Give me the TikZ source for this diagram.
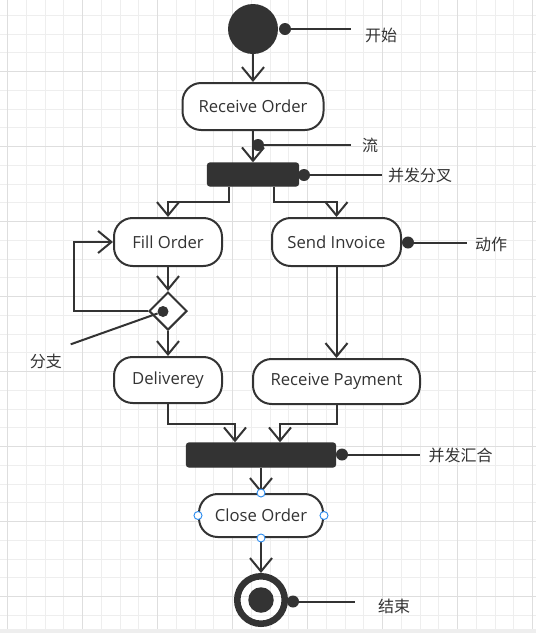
\documentclass[tikz,border=0pt]{standalone}
\usepackage{fontspec}
\setmainfont{Open Sans}
\newfontfamily\cjk{Noto Sans CJK SC}
\usetikzlibrary{arrows.meta,shapes.geometric}
\definecolor{ink}{HTML}{333333}
\definecolor{gridminor}{HTML}{EEEEEE}
\definecolor{gridmajor}{HTML}{DEDEDE}
\definecolor{gripblue}{HTML}{2E8DEF}
\newcommand\upx{0.75pt}

\tikzset{
	act/.style={draw=ink, line width=1.5pt, rounded corners=14pt, fill=white, text=ink,
		font=\fontsize{12.5}{14}\selectfont, inner sep=0pt},
	bar/.style={draw=ink, fill=ink, line width=1pt, rounded corners=2pt, inner sep=0pt},
	flow/.style={draw=ink, line width=1.5pt, -{Straight Barb[length=10pt,width=16.5pt]}},
	dot/.style={circle, fill=ink, minimum size=12*\upx, inner sep=0pt},
	lead/.style={draw=ink, line width=1.5pt},
	note/.style={text=ink, font=\cjk\fontsize{12}{14}\selectfont, inner sep=0pt},
	grip/.style={circle, draw=gripblue, fill=white, line width=0.7pt, minimum size=8*\upx, inner sep=0pt}
}

\begin{document}
\begin{tikzpicture}[x=0.75pt, y=-0.75pt]
		%%%%% START %%%%%
		\useasboundingbox (0,0) rectangle (536,633);
		\fill[white] (0,0) rectangle (536,633);
		
		% grid paper
		\foreach \i in {0,...,28} \draw[gridminor, line width=0.75pt] ({7.7+18.75*\i},0) -- ({7.7+18.75*\i},629);
		\foreach \j in {0,...,32} \draw[gridminor, line width=0.75pt] (0,{15.45+18.75*\j}) -- (536,{15.45+18.75*\j});
		\foreach \i in {0,4,...,28} \draw[gridmajor, line width=0.75pt] ({7.7+18.75*\i},0) -- ({7.7+18.75*\i},629);
		\foreach \j in {3,7,...,31} \draw[gridmajor, line width=0.75pt] (0,{15.45+18.75*\j}) -- (536,{15.45+18.75*\j});
		\fill[gridminor] (0,629) rectangle (536,633);
		
		% activities
		\node[circle, fill=ink, minimum size=50*\upx, inner sep=0pt] (start) at (253, 29) {};
		\node[act, minimum width=141*\upx, minimum height=47*\upx] (recv) at (253, 106.5) {Receive Order};
		\node[bar, minimum width=91*\upx, minimum height=23*\upx] (fork) at (253, 174.5) {};
		\node[act, minimum width=108*\upx, minimum height=48*\upx] (fill) at (168, 242) {Fill Order};
		\node[act, minimum width=129*\upx, minimum height=48*\upx] (send) at (336.5, 242) {Send Invoice};
		\node[diamond, draw=ink, fill=white, line width=1.5pt, minimum width=38*\upx, minimum height=38*\upx, inner sep=0pt] (branch) at (168, 311) {};
		\node[act, minimum width=108*\upx, minimum height=46*\upx] (deliv) at (168, 380) {Deliverey};
		\node[act, minimum width=167*\upx, minimum height=45*\upx] (pay) at (336.5, 381.5) {Receive Payment};
		\node[bar, minimum width=149*\upx, minimum height=24*\upx] (join) at (261, 455) {};
		\node[act, minimum width=124*\upx, minimum height=43*\upx] (close) at (261, 515.5) {Close Order};
		\node[circle, draw=ink, line width=4.9pt, minimum size=47.5*\upx, inner sep=0pt] (end) at (261, 600) {};
		\node[circle, fill=ink, minimum size=25.5*\upx, inner sep=0pt] (endcore) at (end.center) {};
		
		% flows
		\draw[flow] (start) -- (recv);
		\draw[flow] (recv) -- (fork);
		\draw[flow] ([xshift=-24*\upx]fork.south) -- ++(0,15.7) -| (fill.north);
		\draw[flow] ([xshift=21*\upx]fork.south) -- ++(0,15.7) -| (send.north);
		\draw[flow] (fill) -- (branch);
		\draw[flow] (branch.west) -- ++(-74,0) |- (fill.west);
		\draw[flow] (branch) -- (deliv);
		\draw[flow] (send) -- (pay);
		\draw[flow] (deliv.south) -- ++(0,20) -| ([xshift=-26*\upx]join.north);
		\draw[flow] (pay.south) -- ++(0,19) -| ([xshift=19*\upx]join.north);
		\draw[flow] (join) -- (close);
		\draw[flow] (close) -- (end);
		
		\foreach \a in {north,south,east,west} \node[grip] (grip-\a) at (close.\a) {};
		
		% callouts
		\node[dot] (d-start) at (285, 29) {};
		\coordinate (e-start) at (351, 29);
		\draw[lead] (d-start) -- (e-start);
		\node[note] (n-start) at (381, 35) {开始};
		
		\node[dot] (d-flow) at (258, 145) {};
		\coordinate (e-flow) at (351, 145);
		\draw[lead] (d-flow) -- (e-flow);
		\node[note] (n-flow) at (370, 145) {流};
		
		\node[dot] (d-fork) at (304, 175) {};
		\coordinate (e-fork) at (382, 175);
		\draw[lead] (d-fork) -- (e-fork);
		\node[note] (n-fork) at (420, 175.5) {并发分叉};
		
		\node[dot] (d-act) at (408, 242.5) {};
		\coordinate (e-act) at (467, 242.5);
		\draw[lead] (d-act) -- (e-act);
		\node[note] (n-act) at (491, 244) {动作};
		
		\node[dot, minimum size=11*\upx] (d-branch) at (163, 311.5) {};
		\coordinate (e-branch) at (70.7, 344.3);
		\draw[lead] (d-branch) -- (e-branch);
		\node[note] (n-branch) at (46, 361.5) {分支};
		
		\node[dot] (d-join) at (342, 454.5) {};
		\coordinate (e-join) at (420, 454.5);
		\draw[lead] (d-join) -- (e-join);
		\node[note] (n-join) at (460.5, 455.5) {并发汇合};
		
		\node[dot] (d-end) at (293, 601.5) {};
		\coordinate (e-end) at (355, 601.5);
		\draw[lead] (d-end) -- (e-end);
		\node[note] (n-end) at (394, 606.5) {结束};
		
		%%%%% END %%%%%
\end{tikzpicture}
\end{document}
